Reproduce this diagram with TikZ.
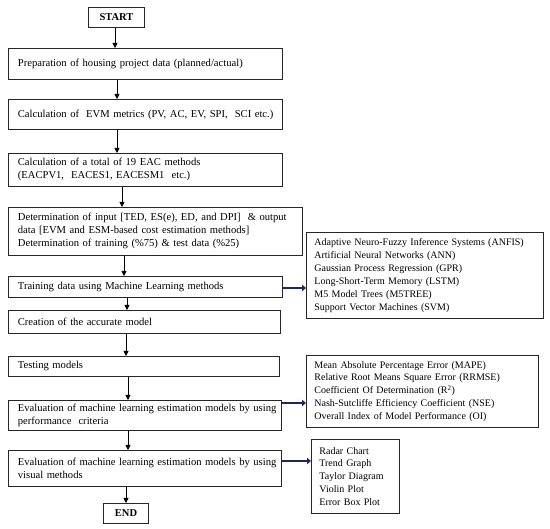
\documentclass[tikz,border=0pt]{standalone}
\usepackage{fontspec}
\setmainfont{Liberation Serif}
\usetikzlibrary{arrows.meta}
\definecolor{navyarrow}{RGB}{28,40,100}
\newcommand\oneline[1]{\mbox{#1}}
\tikzset{
  box/.style={draw=black!85, line width=0.8pt, anchor=north west, align=left,
    inner xsep=9.5pt, inner ysep=0pt, font=\fontsize{10.6}{13}\selectfont},
  sidebox/.style={draw=black!85, line width=0.8pt, anchor=north west, align=left,
    inner xsep=8pt, inner ysep=0pt, font=\fontsize{10}{12.9}\selectfont},
  termbox/.style={draw=black!85, line width=1pt, anchor=north west, align=center,
    inner sep=0pt, font=\fontsize{10.5}{12}\selectfont\bfseries},
  arr/.style={draw=black, line width=0.8pt, -{Triangle[length=5pt,width=5pt]}},
  navyarr/.style={draw=navyarrow, line width=2.6pt, -{Triangle[length=4pt,width=6.5pt]}}
}
\begin{document}
\begin{tikzpicture}[x=1pt,y=-1pt]
\useasboundingbox (0,0) rectangle (550,529);
\fill[white] (0,0) rectangle (550,529);

\node[termbox, minimum width=56pt, minimum height=20pt] (start) at (88,7) {START};

\node[box, text width=255pt, minimum height=31pt] (b1) at (8,48)
  {\oneline{Preparation of housing project data (planned/actual)}};
\node[box, text width=255pt, minimum height=30pt] (b2) at (8,99)
  {\oneline{Calculation of \ EVM metrics (PV, AC, EV, SPI, \ SCI etc.)}};
\node[box, text width=255pt, minimum height=33pt] (b3) at (8,153)
  {\oneline{Calculation of a total of 19 EAC methods}\\\oneline{(EACPV1, \ EACES1, EACESM1 \ etc.)}};
\node[box, text width=275pt, minimum height=48pt] (b4) at (8,207)
  {\oneline{Determination of input [TED, ES(e), ED, and DPI] \ \& output}\\\oneline{data [EVM and ESM-based cost estimation methods]}\\\oneline{Determination of training (\%75) \& test data (\%25)}};
\node[box, text width=255pt, minimum height=21pt] (b5) at (8,276)
  {\oneline{Training data using Machine Learning methods}};
\node[box, text width=253pt, minimum height=23pt] (b6) at (8,310)
  {\oneline{Creation of the accurate model}};
\node[box, text width=252pt, minimum height=20pt] (b7) at (8,356)
  {\oneline{Testing models}};
\node[box, text width=254pt, minimum height=30pt] (b8) at (8,400)
  {\oneline{Evaluation of machine learning estimation models by using}\\\oneline{performance \ criteria}};
\node[box, text width=254pt, minimum height=36pt] (b9) at (8,450)
  {\oneline{Evaluation of machine learning estimation models by using}\\\oneline{visual methods}};

\node[termbox, minimum width=45pt, minimum height=20pt] (end) at (103,503) {END};

\node[sidebox, text width=221pt, minimum height=86pt] (ra) at (306,232)
  {\oneline{Adaptive Neuro-Fuzzy Inference Systems (ANFIS)}\\Artificial Neural Networks (ANN)\\Gaussian Process Regression (GPR)\\Long-Short-Term Memory (LSTM)\\M5 Model Trees (M5TREE)\\Support Vector Machines (SVM)};
\node[sidebox, text width=216pt, minimum height=72pt] (rb) at (306,355)
  {\oneline{Mean Absolute Percentage Error (MAPE)}\\\oneline{Relative Root Means Square Error (RRMSE)}\\\oneline{Coefficient Of Determination (R\textsuperscript{2})}\\\oneline{Nash-Sutcliffe Efficiency Coefficient (NSE)}\\\oneline{Overall Index of Model Performance (OI)}};
\node[sidebox, text width=72pt, minimum height=74pt] (rc) at (311,439)
  {Radar Chart\\Trend Graph\\Taylor Diagram\\Violin Plot\\Error Box Plot};

% main flow arrows
\draw[arr] (start.south -| 115,0) -- (b1.north -| 115,0);
\draw[arr] (b1.south -| 117,0) -- (b2.north -| 117,0);
\draw[arr] (b2.south -| 117,0) -- (b3.north -| 117,0);
\draw[arr] (b3.south -| 122,0) -- (b4.north -| 122,0);
\draw[arr] (b4.south -| 124,0) -- (b5.north -| 124,0);
\draw[arr] (b5.south -| 127,0) -- (b6.north -| 127,0);
\draw[arr] (b6.south -| 126,0) -- (b7.north -| 126,0);
\draw[arr] (b7.south -| 128,0) -- (b8.north -| 128,0);
\draw[arr] (b8.south -| 128,0) -- (b9.north -| 128,0);
\draw[arr] (b9.south -| 126,0) -- (end.north -| 126,0);

% side arrows
\draw[navyarr] (b5.east |- 0,288) -- (ra.west |- 0,288);
\draw[navyarr] (b8.east |- 0,403) -- (rb.west |- 0,403);
\draw[navyarr] (b9.east |- 0,461) -- (rc.west |- 0,461);
\end{tikzpicture}
\end{document}
